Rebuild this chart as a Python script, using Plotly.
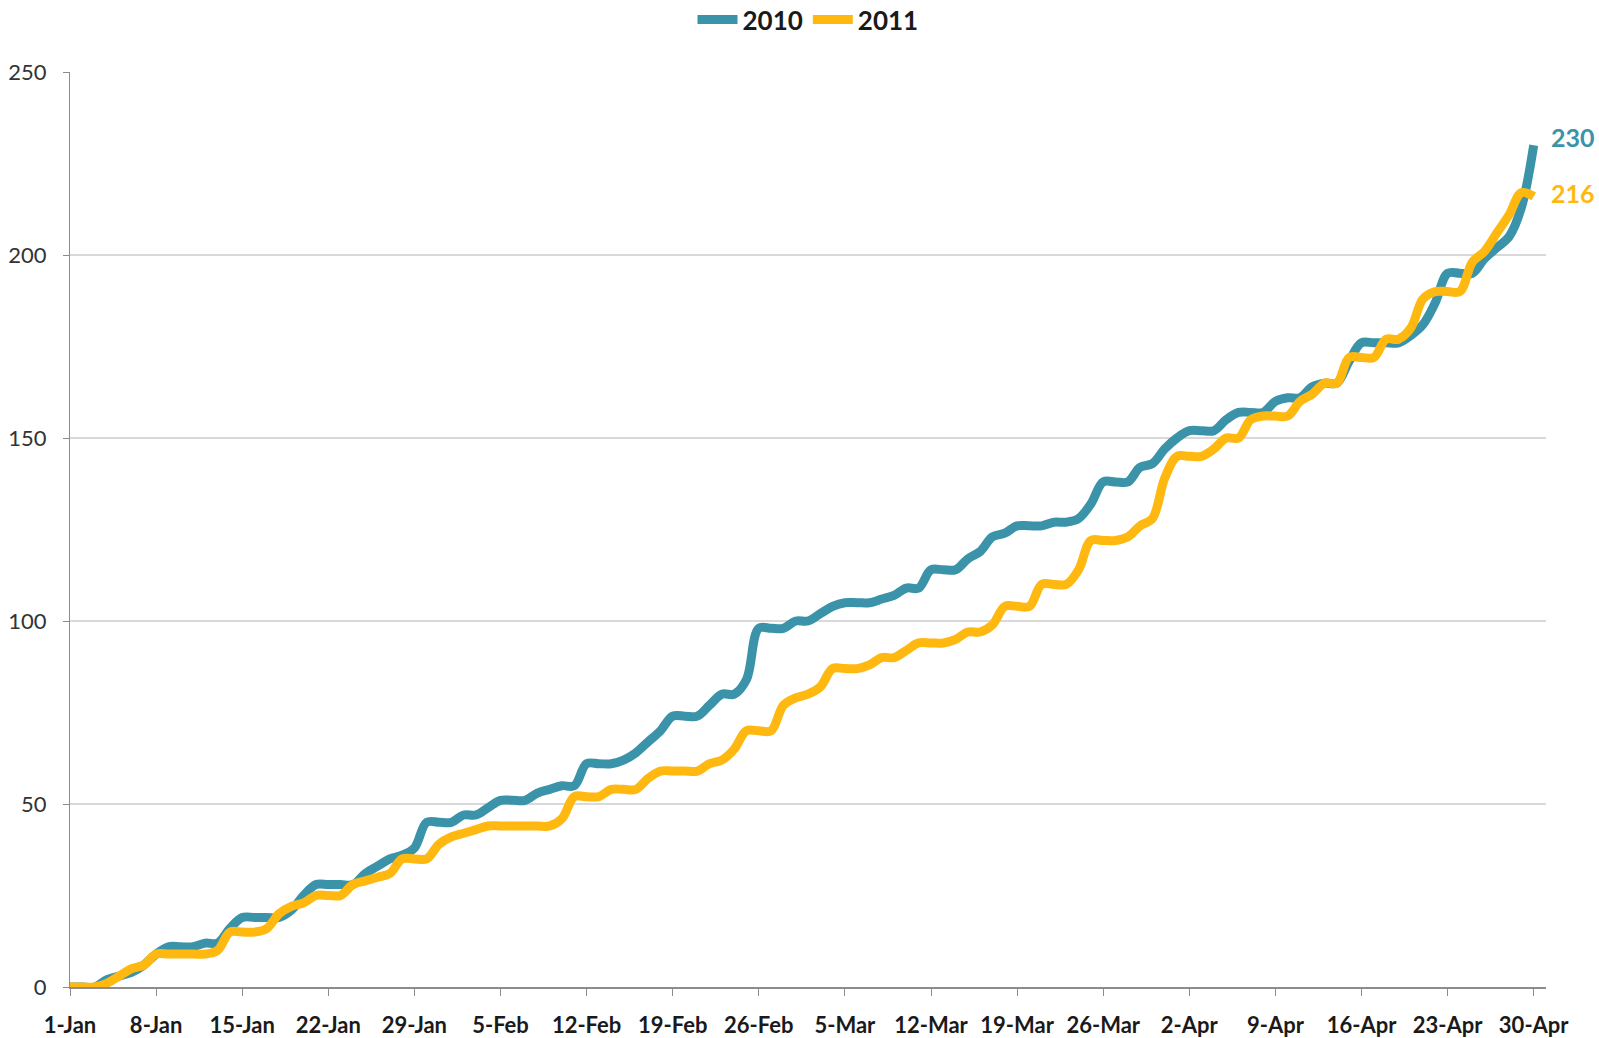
import plotly.graph_objects as go
import pandas as pd

# Daily cumulative values, 1-Jan .. 30-Apr (120 days)
start_date = "2010-01-01"
end_date = "2010-04-30"
series_2010 = [
    0, 0, 0, 2, 3, 4, 6, 9, 11, 11,
    11, 12, 12, 16, 19, 19, 19, 19, 21, 25,
    28, 28, 28, 28, 31, 33, 35, 36, 38, 45,
    45, 45, 47, 47, 49, 51, 51, 51, 53, 54,
    55, 55, 61, 61, 61, 62, 64, 67, 70, 74,
    74, 74, 77, 80, 80, 84, 98, 98, 98, 100,
    100, 102, 104, 105, 105, 105, 106, 107, 109, 109,
    114, 114, 114, 117, 119, 123, 124, 126, 126, 126,
    127, 127, 128, 132, 138, 138, 138, 142, 143, 147,
    150, 152, 152, 152, 155, 157, 157, 157, 160, 161,
    161, 164, 165, 165, 171, 176, 176, 176, 176, 178,
    181, 187, 195, 195, 195, 199, 202, 205, 213, 230,
]
series_2011 = [
    0, 0, 0, 1, 3, 5, 6, 9, 9, 9,
    9, 9, 10, 15, 15, 15, 16, 20, 22, 23,
    25, 25, 25, 28, 29, 30, 31, 35, 35, 35,
    39, 41, 42, 43, 44, 44, 44, 44, 44, 44,
    46, 52, 52, 52, 54, 54, 54, 57, 59, 59,
    59, 59, 61, 62, 65, 70, 70, 70, 77, 79,
    80, 82, 87, 87, 87, 88, 90, 90, 92, 94,
    94, 94, 95, 97, 97, 99, 104, 104, 104, 110,
    110, 110, 114, 122, 122, 122, 123, 126, 128, 139,
    145, 145, 145, 147, 150, 150, 155, 156, 156, 156,
    160, 162, 165, 165, 172, 172, 172, 177, 177, 180,
    188, 190, 190, 190, 198, 201, 206, 211, 217, 216,
]
series_names = ["2010", "2011"]
tick_labels = ["1-Jan", "8-Jan", "15-Jan", "22-Jan", "29-Jan", "5-Feb", "12-Feb",
               "19-Feb", "26-Feb", "5-Mar", "12-Mar", "19-Mar", "26-Mar", "2-Apr",
               "9-Apr", "16-Apr", "23-Apr", "30-Apr"]
y_ticks = [0, 50, 100, 150, 200, 250]

colors = ["#3B93A9", "#FFB810"]

dates = pd.date_range(start_date, end_date, freq="D")
tick_dates = pd.date_range(start_date, end_date, freq="7D")

fig = go.Figure()
for name, vals, col, dy in zip(series_names, [series_2010, series_2011], colors, [8, 3]):
    fig.add_trace(go.Scatter(
        x=dates, y=vals, name=name, mode="lines",
        line=dict(color=col, width=9, shape="spline", smoothing=1.0),
        cliponaxis=False,
    ))
    fig.add_annotation(
        x=dates[-1], y=vals[-1], text=f"<b>{vals[-1]}</b>", showarrow=False,
        xanchor="left", yanchor="middle", xshift=15, yshift=dy,
        font=dict(family="Lato", size=25, color=col),
    )

fig.update_layout(
    width=1599, height=1038,
    paper_bgcolor="white", plot_bgcolor="white",
    margin=dict(l=70, r=53, t=72, b=51, autoexpand=False),
    font=dict(family="Lato", color="#262626"),
    legend=dict(
        orientation="h", x=0.5, xanchor="center",
        yref="container", y=0.981, yanchor="middle",
        font=dict(family="Lato", size=26, color="#1a1a1a", weight="bold"),
        itemwidth=40, tracegroupgap=0,
    ),
    showlegend=True,
)
fig.update_xaxes(
    type="date",
    range=["2010-01-01", "2010-05-01"],
    tickvals=tick_dates, ticktext=[f"<b>{t}</b>" for t in tick_labels],
    ticks="outside", ticklen=7, tickcolor="#8c8c8c", tickwidth=1,
    showline=True, linecolor="#8c8c8c", linewidth=2,
    showgrid=False, zeroline=False,
    tickfont=dict(family="Lato", size=22, color="#1a1a1a"),
    ticklabelstandoff=11,
)
fig.update_yaxes(
    range=[0, 250], tickvals=y_ticks,
    ticks="outside", ticklen=6, tickcolor="#8c8c8c",
    showline=True, linecolor="#8c8c8c", linewidth=1,
    showgrid=True, gridcolor="#d9d9d9", gridwidth=1.5,
    zeroline=False,
    tickfont=dict(family="Lato", size=22, color="#333333"),
    ticklabelstandoff=12,
)

fig.write_html(
    "out.html",
    config={"displayModeBar": False},
    post_script="document.body.style.margin='0';document.body.style.overflow='hidden';",
)
